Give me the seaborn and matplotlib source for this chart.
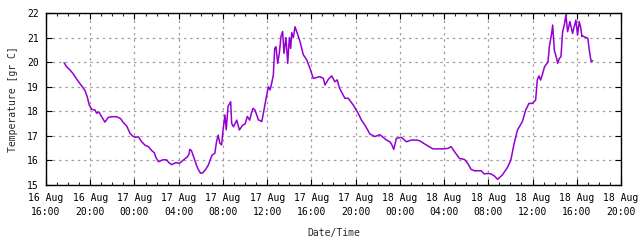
import matplotlib
matplotlib.use("Agg")
import matplotlib.pyplot as plt
import matplotlib.dates as mdates
import seaborn as sns
import pandas as pd
import numpy as np

# hours after 16 Aug 16:00
hours = [1.63, 1.87, 2.17, 2.47, 2.83, 3.23, 3.53, 3.73, 3.91, 4.13, 4.43, 4.58, 4.79, 5.03, 5.33,
         5.63, 5.93, 6.39, 6.75, 6.99, 7.30, 7.60, 7.84, 8.05, 8.36, 8.65, 8.96, 9.26, 9.56, 9.80,
         9.93, 10.16, 10.61, 10.91, 11.11, 11.36, 11.76, 12.06, 12.36, 12.57, 12.76, 12.94, 13.00,
         13.15, 13.39, 13.61, 13.76, 13.97, 14.19, 14.43, 14.68, 14.87, 15.03, 15.27, 15.42, 15.57,
         15.72, 15.88, 16.03, 16.18, 16.30, 16.46, 16.70, 16.79, 16.95, 17.25, 17.49, 17.79, 18.00,
         18.21, 18.42, 18.57, 18.72, 18.90, 19.21, 19.36, 19.51, 19.66, 19.96, 20.11, 20.26, 20.41,
         20.56, 20.68, 20.80, 20.95, 21.10, 21.25, 21.40, 21.52, 21.70, 21.86, 22.01, 22.13, 22.22,
         22.37, 22.52, 22.67, 22.97, 23.27, 23.57, 23.87, 24.17, 24.78, 25.08, 25.23, 25.53, 25.83,
         26.13, 26.34, 26.52, 26.73, 27.03, 27.33, 27.78, 28.02, 28.23, 28.53, 28.84, 29.29, 29.74,
         30.19, 30.79, 31.09, 31.24, 31.45, 31.69, 32.14, 32.59, 33.04, 33.49, 33.79, 34.39, 34.99,
         35.59, 36.04, 36.34, 36.64, 36.94, 37.39, 37.84, 38.14, 38.44, 38.74, 39.34, 39.64, 39.94,
         40.24, 40.54, 40.84, 41.29, 41.74, 42.04, 42.34, 42.64, 43.08, 43.38, 43.68, 43.98, 44.28,
         44.43, 44.58, 44.73, 44.88, 45.09, 45.31, 45.40, 45.52, 45.73, 45.82, 45.97, 46.18, 46.27,
         46.42, 46.57, 46.72, 46.87, 47.02, 47.17, 47.38, 47.62, 47.92, 48.07, 48.22, 48.37, 48.46,
         48.55, 49.00, 49.15, 49.30, 49.44]
temps = [19.98, 19.81, 19.68, 19.52, 19.27, 19.03, 18.84, 18.59, 18.26, 18.08, 18.05, 17.92, 17.97,
         17.78, 17.56, 17.75, 17.78, 17.78, 17.70, 17.54, 17.40, 17.10, 16.99, 16.94, 16.96, 16.76,
         16.62, 16.56, 16.40, 16.31, 16.13, 15.95, 16.03, 16.02, 15.91, 15.83, 15.91, 15.88, 15.99,
         16.07, 16.13, 16.26, 16.45, 16.40, 16.10, 15.81, 15.64, 15.48, 15.50, 15.63, 15.81, 16.05,
         16.22, 16.29, 16.76, 17.03, 16.70, 16.63, 17.31, 17.85, 17.25, 18.19, 18.39, 17.51, 17.37,
         17.64, 17.24, 17.44, 17.48, 17.79, 17.64, 17.92, 18.12, 18.05, 17.65, 17.62, 17.58, 17.92,
         18.66, 19.00, 18.87, 19.14, 19.48, 20.56, 20.63, 19.95, 20.36, 21.04, 21.25, 20.36, 21.00,
         19.95, 21.00, 20.56, 21.20, 21.00, 21.44, 21.25, 20.84, 20.30, 20.10, 19.75, 19.34, 19.41,
         19.34, 19.07, 19.30, 19.44, 19.20, 19.28, 18.97, 18.78, 18.53, 18.53, 18.26, 18.08, 17.92,
         17.64, 17.44, 17.08, 16.97, 17.05, 16.83, 16.76, 16.67, 16.45, 16.90, 16.94, 16.76, 16.83,
         16.83, 16.80, 16.63, 16.47, 16.47, 16.47, 16.49, 16.56, 16.36, 16.08, 16.04, 15.88, 15.64,
         15.58, 15.58, 15.45, 15.47, 15.45, 15.37, 15.23, 15.42, 15.72, 16.02, 16.70, 17.24, 17.58,
         18.05, 18.32, 18.32, 18.46, 19.27, 19.44, 19.27, 19.48, 19.82, 19.95, 20.02, 20.63, 21.17,
         21.51, 20.49, 20.15, 19.95, 20.15, 20.22, 21.24, 21.51, 21.92, 21.24, 21.65, 21.17, 21.71,
         21.10, 21.65, 21.38, 21.04, 21.06, 20.97, 20.43, 20.02, 20.06, 19.95, 20.02]
n = min(len(hours), len(temps))
hours = hours[:n]
temps = temps[:n]

start = pd.Timestamp("2020-08-16 16:00")
end = pd.Timestamp("2020-08-18 20:00")
df = pd.DataFrame({"time": start + pd.to_timedelta(hours, unit="h"), "temp": temps})

sns.set_theme(style="white")
plt.rcParams["font.family"] = ["DejaVu Sans Mono"]

fig = plt.figure(figsize=(6.4, 2.4), dpi=100)
ax = fig.add_axes([46 / 640, 1 - 185 / 240, 575 / 640, 172 / 240])
sns.lineplot(data=df, x="time", y="temp", ax=ax, color="#9400d3", linewidth=1.1)

ax.set_xlim(start, end)
ax.set_ylim(15, 22)
ax.set_yticks(range(15, 23))
ax.xaxis.set_major_locator(mdates.HourLocator(byhour=range(0, 24, 4)))
ax.xaxis.set_minor_locator(mdates.HourLocator())
ax.xaxis.set_major_formatter(mdates.DateFormatter("%d %b\n%H:%M"))

ax.grid(True, which="major", color="#a0a0a0", linestyle=(0, (2, 3)), linewidth=0.9)
for s in ax.spines.values():
    s.set_color("black")
    s.set_linewidth(1.0)
ax.tick_params(which="major", direction="in", length=4, width=0.8, top=True, right=True,
               bottom=True, left=True, labelsize=7, colors="black")
ax.tick_params(axis="x", which="major", pad=6)
ax.tick_params(axis="y", which="major", pad=5)
ax.tick_params(which="minor", direction="in", length=2, width=0.8, top=True, bottom=True)
for lbl in ax.get_xticklabels():
    lbl.set_ha("center")
    lbl.set_multialignment("center")
    lbl.set_linespacing(1.45)

ax.set_xlabel("Date/Time", fontsize=7, labelpad=8)
ax.set_ylabel("Temperature [gr C]", fontsize=7, labelpad=7)

fig.savefig("out.png", dpi=100)
